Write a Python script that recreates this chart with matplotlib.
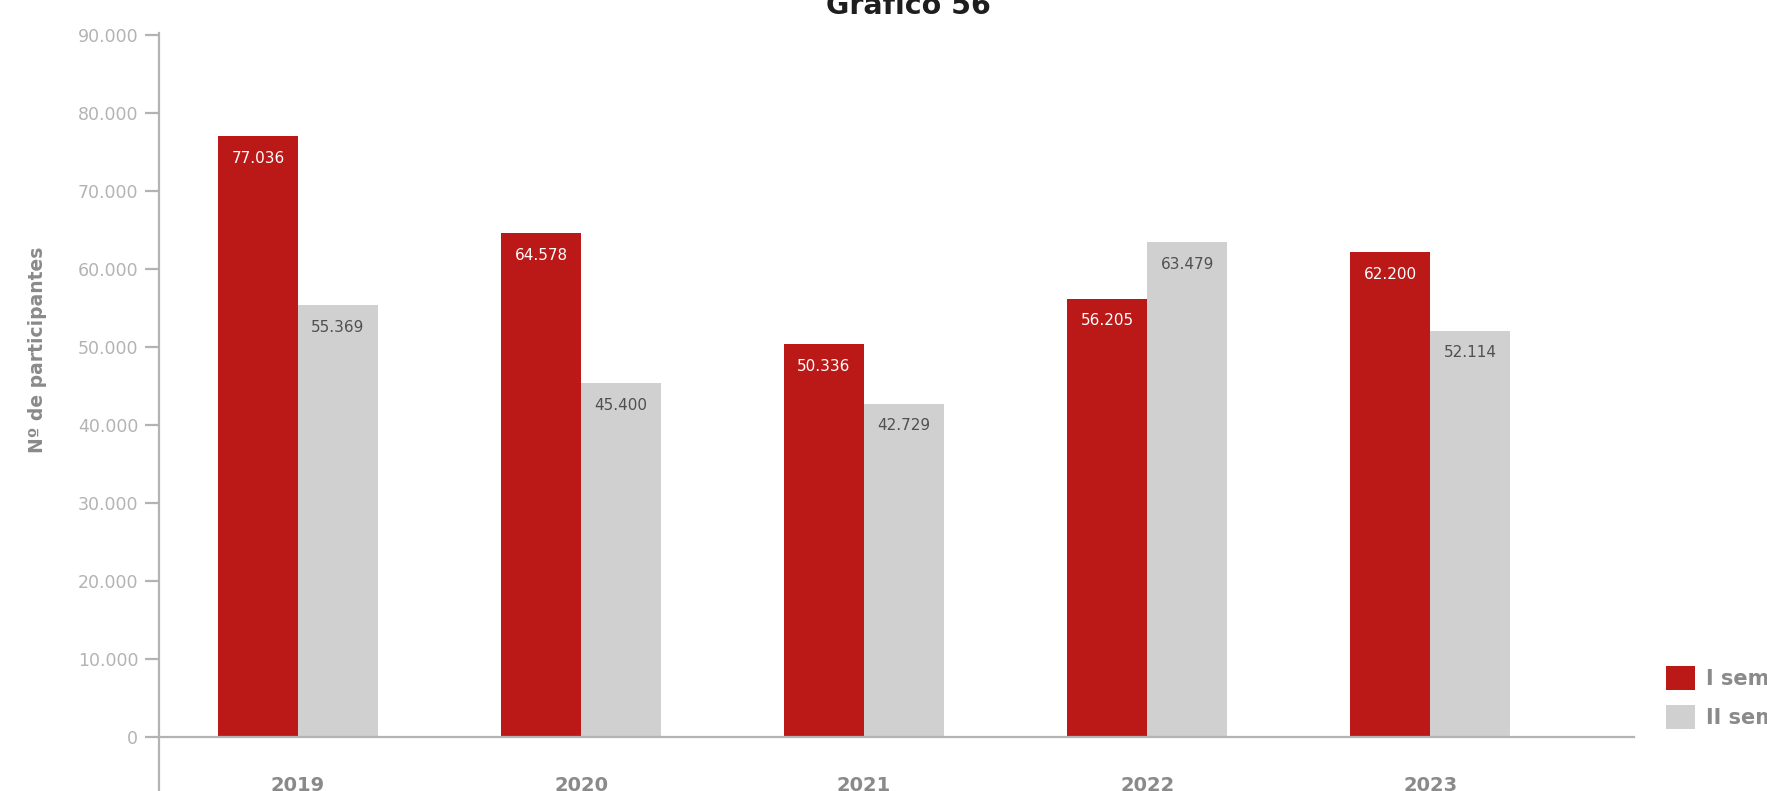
import matplotlib
matplotlib.use("Agg")
import matplotlib.pyplot as plt
import numpy as np

years = ["2019", "2020", "2021", "2022", "2023"]
sem1 = [77036, 64578, 50336, 56205, 62200]
sem2 = [55369, 45400, 42729, 63479, 52114]
series_labels = ["I semestre", "II semestre"]
yticks = [0, 10000, 20000, 30000, 40000, 50000, 60000, 70000, 80000, 90000]

RED = "#bb1818"
GREY = "#d0d0d0"
AXC = "#b3b3b3"
TICKC = "#b3b3b3"
LABC = "#8a8a8a"

plt.rcParams['font.family'] = ['DejaVu Sans']

fig = plt.figure(figsize=(17.67, 7.91), dpi=100)
ax = fig.add_axes([159/1767, 54/791, (1634-159)/1767, (737-35)/791])

x = np.arange(len(years))
w = 0.283
ax.bar(x - w/2, sem1, w, color=RED, label=series_labels[0])
ax.bar(x + w/2, sem2, w, color=GREY, label=series_labels[1])

def fmt(v):
    return f"{v:,}".replace(",", ".")

for xi, v in zip(x, sem1):
    ax.annotate(fmt(v), (xi - w/2, v), xytext=(0, -16), textcoords="offset points",
                ha="center", va="center", color="white", fontsize=11)
for xi, v in zip(x, sem2):
    ax.annotate(fmt(v), (xi + w/2, v), xytext=(0, -16), textcoords="offset points",
                ha="center", va="center", color="#505050", fontsize=11)

ax.set_xlim(-0.491, 4.72)
ax.set_ylim(0, 90000)
ax.set_yticks(yticks)
ax.set_yticklabels([fmt(v) for v in yticks])
ax.set_xticks(x)
ax.set_xticklabels(years, fontweight="bold", fontsize=14, color=LABC)
ax.tick_params(axis="x", length=0, pad=28)
ax.tick_params(axis="y", length=10, width=1.6, color=AXC, pad=5, labelsize=12.5, labelcolor=TICKC)

for s in ["top", "right", "left"]:
    ax.spines[s].set_visible(False)
ax.spines["bottom"].set_color(AXC)
ax.spines["bottom"].set_linewidth(1.6)
ax.plot([0, 0], [-0.1, 1.003], transform=ax.transAxes, color=AXC, lw=1.6, clip_on=False)

ax.set_ylabel("Nº de participantes", fontweight="bold", fontsize=13.5, color=LABC, va="center")
ax.yaxis.set_label_coords((37 - 159) / 1475, (737 - 350) / 702)

fig.text(0.514, 1 - 14/791, "Gráfico 56", ha="center", va="baseline", fontsize=20.5,
         fontweight="bold", color="#1e1e1e")

leg = ax.legend(loc="upper left", bbox_to_anchor=(1666/1767, (791-666)/791),
                bbox_transform=fig.transFigure, frameon=False, borderpad=0,
                borderaxespad=0, handlelength=1.4, handleheight=1.4,
                handletextpad=0.5, labelspacing=0.7,
                prop={"weight": "bold", "size": 15})
for t in leg.get_texts():
    t.set_color(LABC)

fig.savefig("out.png", dpi=100)
